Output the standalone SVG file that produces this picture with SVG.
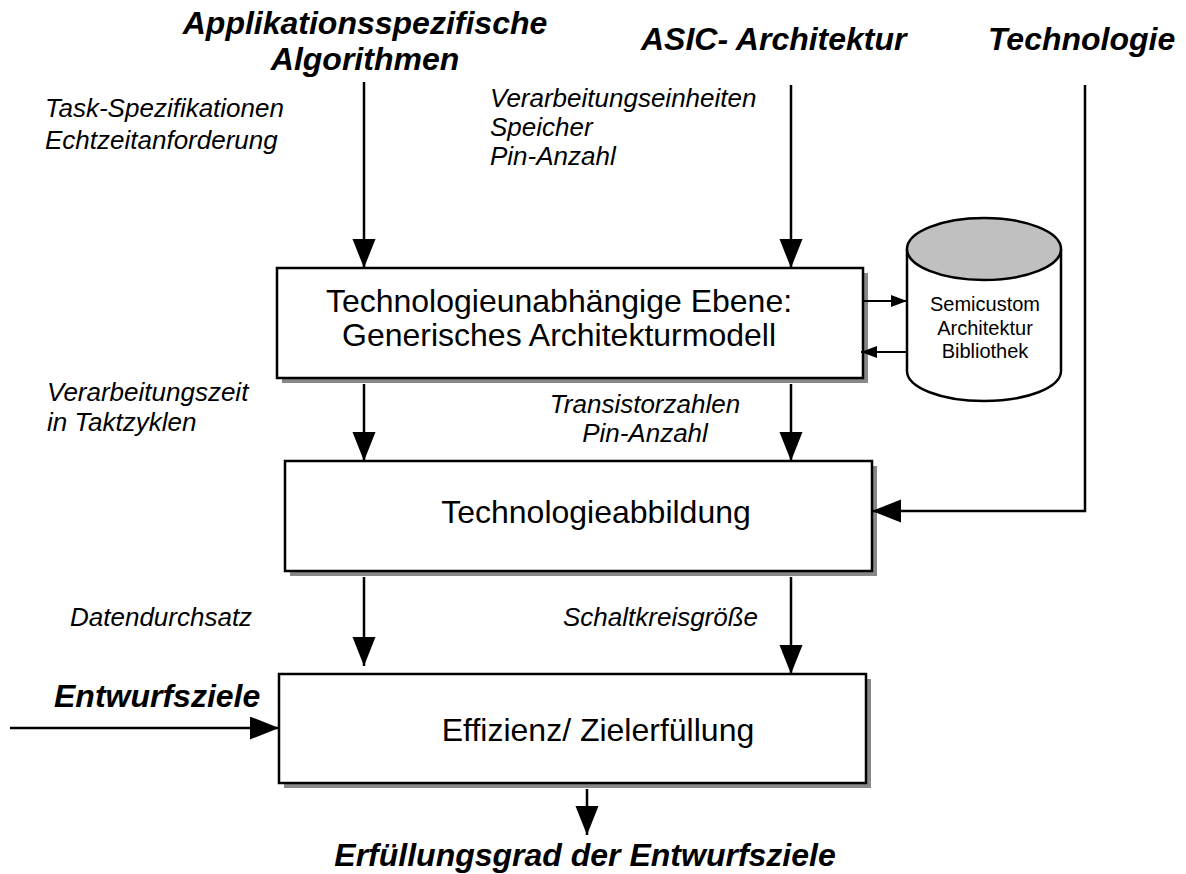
<svg xmlns="http://www.w3.org/2000/svg" width="1186" height="874" viewBox="0 0 1186 874">
  <style>
    .title { font-family: "Liberation Sans", Arial, sans-serif; font-size: 32px; font-weight: bold; font-style: italic; fill: #000; }
    .label { font-family: "Liberation Sans", Arial, sans-serif; font-size: 26px; font-style: italic; fill: #000; }
    .boxtext { font-family: "Liberation Sans", Arial, sans-serif; font-size: 32px; fill: #000; }
    .dbtext { font-family: "Liberation Sans", Arial, sans-serif; font-size: 20px; fill: #000; }
    .box { fill: #fff; stroke: #000; stroke-width: 2.5; }
    .shadow { fill: #888; stroke: none; }
    .line { fill: none; stroke: #000; stroke-width: 2.5; }
    .thin { fill: none; stroke: #000; stroke-width: 2; }
  </style>
  <defs>
    <marker id="head" markerUnits="userSpaceOnUse" markerWidth="30" markerHeight="24" refX="29" refY="11.5" orient="auto">
      <path d="M0,0 L29,11.5 L0,23 Z" fill="#000"/>
    </marker>
    <marker id="headSmall" markerUnits="userSpaceOnUse" markerWidth="17" markerHeight="13" refX="16" refY="6" orient="auto">
      <path d="M0,0 L16,6 L0,12 Z" fill="#000"/>
    </marker>
  </defs>

  <rect width="1186" height="874" fill="#fff"/>

  <!-- source titles -->
  <g id="src-algorithmen">
    <text class="title" x="365" y="34" text-anchor="middle">Applikationsspezifische</text>
    <text class="title" x="365" y="70" text-anchor="middle">Algorithmen</text>
  </g>
  <g id="src-asic">
    <text class="title" x="641" y="50">ASIC- Architektur</text>
  </g>
  <g id="src-technologie">
    <text class="title" x="988" y="50">Technologie</text>
  </g>
  <g id="src-entwurfsziele">
    <text class="title" x="54" y="707">Entwurfsziele</text>
  </g>
  <g id="result">
    <text class="title" x="585" y="866" text-anchor="middle">Erfüllungsgrad der Entwurfsziele</text>
  </g>

  <!-- processing levels -->
  <g id="level-generic">
    <rect class="shadow" x="282" y="273" width="586" height="110"/>
    <rect class="box" x="277" y="268" width="586" height="110"/>
    <text class="boxtext" x="559" y="312" text-anchor="middle">Technologieunabhängige Ebene:</text>
    <text class="boxtext" x="559" y="346" text-anchor="middle">Generisches Architekturmodell</text>
  </g>
  <g id="level-mapping">
    <rect class="shadow" x="290" y="466" width="587" height="110"/>
    <rect class="box" x="285" y="461" width="587" height="110"/>
    <text class="boxtext" x="596" y="523" text-anchor="middle">Technologieabbildung</text>
  </g>
  <g id="level-efficiency">
    <rect class="shadow" x="284" y="679" width="587" height="109"/>
    <rect class="box" x="279" y="674" width="587" height="109"/>
    <text class="boxtext" x="598" y="741" text-anchor="middle">Effizienz/ Zielerfüllung</text>
  </g>

  <!-- library store -->
  <g id="library">
    <path d="M907,249 V371 A77,30 0 0 0 1061,371 V249" fill="#fff" stroke="#000" stroke-width="2.5"/>
    <ellipse cx="984" cy="249" rx="77" ry="31" fill="#c0c0c0" stroke="#000" stroke-width="2.5"/>
    <text class="dbtext" x="985" y="311" text-anchor="middle">Semicustom</text>
    <text class="dbtext" x="985" y="335" text-anchor="middle">Architektur</text>
    <text class="dbtext" x="985" y="358" text-anchor="middle">Bibliothek</text>
  </g>

  <!-- flow labels -->
  <g id="labels">
    <text class="label" x="45" y="117">Task-Spezifikationen</text>
    <text class="label" x="45" y="149">Echtzeitanforderung</text>
    <text class="label" x="490" y="107">Verarbeitungseinheiten</text>
    <text class="label" x="490" y="136">Speicher</text>
    <text class="label" x="490" y="165">Pin-Anzahl</text>
    <text class="label" x="47" y="401">Verarbeitungszeit</text>
    <text class="label" x="47" y="431">in Taktzyklen</text>
    <text class="label" x="645" y="413" text-anchor="middle">Transistorzahlen</text>
    <text class="label" x="645" y="442" text-anchor="middle">Pin-Anzahl</text>
    <text class="label" x="70" y="626">Datendurchsatz</text>
    <text class="label" x="563" y="626">Schaltkreisgröße</text>
  </g>

  <!-- connectors -->
  <g id="connectors">
    <path class="line" d="M364,82 V268" marker-end="url(#head)"/>
    <path class="line" d="M791,85 V268" marker-end="url(#head)"/>
    <path class="line" d="M364,384 V461" marker-end="url(#head)"/>
    <path class="line" d="M791,384 V461" marker-end="url(#head)"/>
    <path class="line" d="M1085,85 V511 H872" marker-end="url(#head)"/>
    <path class="line" d="M364,577 V666" marker-end="url(#head)"/>
    <path class="line" d="M791,577 V674" marker-end="url(#head)"/>
    <path class="line" d="M10,728 H279" marker-end="url(#head)"/>
    <path class="line" d="M587,789 V835" marker-end="url(#head)"/>
    <path class="thin" d="M863,301 H907" marker-end="url(#headSmall)"/>
    <path class="thin" d="M907,352 H861" marker-end="url(#headSmall)"/>
  </g>
</svg>
